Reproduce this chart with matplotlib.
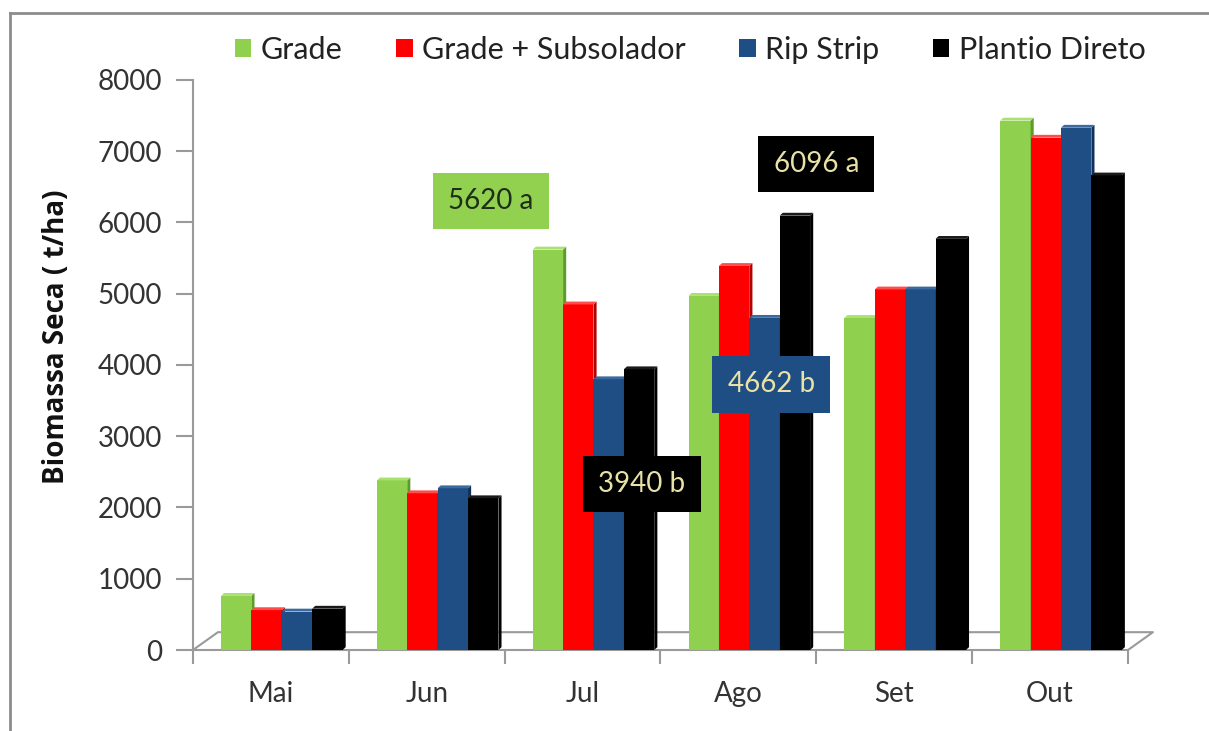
import matplotlib
matplotlib.use("Agg")
import matplotlib.pyplot as plt
from matplotlib.patches import Patch, Polygon, Rectangle
from matplotlib.lines import Line2D
import numpy as np

plt.rcParams['font.family'] = ['Lato', 'DejaVu Sans']

meses = ['Mai', 'Jun', 'Jul', 'Ago', 'Set', 'Out']
series = ['Grade', 'Grade + Subsolador', 'Rip Strip', 'Plantio Direto']
grade = [760, 2380, 5620, 4970, 4660, 7430]
grade_sub = [560, 2200, 4850, 5390, 5060, 7190]
rip_strip = [540, 2270, 3800, 4662, 5060, 7330]
plantio = [580, 2130, 3940, 6096, 5770, 6660]
valores = [grade, grade_sub, rip_strip, plantio]

cores = ['#8fd14f', '#ff0000', '#1f4e85', '#000000']
lados = ['#5f9a2c', '#b30000', '#12305a', '#000000']
topos = ['#a9e070', '#ff4d4d', '#3b6aa0', '#1a1a1a']

# label boxes: (text, x, y, box colour, text colour)
rotulos = [
    ('5620 a', 1.41, 6300, '#92d050', '#1e2e18'),
    ('6096 a', 3.50, 6820, '#000000', '#e8e2a6'),
    ('4662 b', 3.21, 3730, '#1f4e85', '#e8e2a6'),
    ('3940 b', 2.38, 2330, '#000000', '#e8e2a6'),
]

fig = plt.figure(figsize=(12.09, 7.31), dpi=100)
ax = fig.add_axes([0.1596, 0.1108, 0.7734, 0.7798])
ax.set_xlim(-0.5, 5.5)
ax.set_ylim(0, 8000)

largura = 0.195
desloc = 0.07
dx, dy = 0.02, 40   # depth of the fake 3D faces (data units)

x = np.arange(len(meses))
for i in range(len(meses)):
    for k in range(len(series)):
        v = valores[k][i]
        x0 = x[i] + desloc + (k - 2) * largura
        z = 3 + i * 10 + k
        ax.add_patch(Rectangle((x0, 0), largura, v, facecolor=cores[k],
                               edgecolor='none', zorder=z))
        side = [(x0 + largura, 0), (x0 + largura + dx, dy),
                (x0 + largura + dx, v + dy), (x0 + largura, v)]
        ax.add_patch(Polygon(side, closed=True, facecolor=lados[k],
                             edgecolor='none', zorder=z))
        top = [(x0, v), (x0 + largura, v),
               (x0 + largura + dx, v + dy), (x0 + dx, v + dy)]
        ax.add_patch(Polygon(top, closed=True, facecolor=topos[k],
                             edgecolor='none', zorder=z))

# floor of the 3D plot
cinza = '#9a9a9a'
fx, fy = 0.16, 250
ax.plot([-0.5, -0.5 + fx, 5.5 + fx, 5.5], [0, fy, fy, 0], color=cinza,
        lw=1.5, clip_on=False, zorder=1)

for txt, tx, ty, cb, ct in rotulos:
    ax.text(tx, ty, txt, ha='center', va='center', fontsize=20, color=ct,
            zorder=100, bbox=dict(boxstyle='square,pad=0.55', facecolor=cb,
                                  edgecolor='none'))

for s in ['top', 'right']:
    ax.spines[s].set_visible(False)
ax.spines['left'].set_color(cinza)
ax.spines['bottom'].set_color(cinza)
ax.spines['left'].set_linewidth(1.5)
ax.spines['bottom'].set_linewidth(1.5)

ax.set_yticks(np.arange(0, 8001, 1000))
ax.tick_params(axis='y', colors=cinza, labelcolor='#333333', labelsize=20,
               length=12, width=1.5, pad=10)
ax.set_xticks(np.arange(-0.5, 6, 1))
ax.set_xticklabels([])
ax.set_xticks(x, minor=True)
ax.set_xticklabels(meses, minor=True)
ax.tick_params(axis='x', which='major', colors=cinza, length=10, width=1.5)
ax.tick_params(axis='x', which='minor', length=0, labelsize=20,
               labelcolor='#333333', pad=22)

ax.set_ylabel('Biomassa Seca ( t/ha)', fontsize=20, fontweight='bold',
              family=['Open Sans', 'DejaVu Sans'], color='#111111')
ax.yaxis.set_label_coords(-0.13, 0.55)

handles = [Patch(facecolor=c, edgecolor='none') for c in cores]
fig.legend(handles, series, ncol=4, loc='center',
           bbox_to_anchor=(690 / 1209, 1 - 50 / 731), frameon=False,
           fontsize=22, handlelength=0.55, handleheight=0.55,
           handletextpad=0.3, columnspacing=1.75, labelcolor='#222222',
           borderaxespad=0, borderpad=0)

# outer frame (top and left edges)
fig.add_artist(Line2D([10 / 1209, 1], [1 - 13 / 731, 1 - 13 / 731],
                      color='#8c8c8c', lw=2, transform=fig.transFigure))
fig.add_artist(Line2D([10 / 1209, 10 / 1209], [0, 1 - 13 / 731],
                      color='#8c8c8c', lw=2, transform=fig.transFigure))

fig.savefig('out.png', dpi=100)
